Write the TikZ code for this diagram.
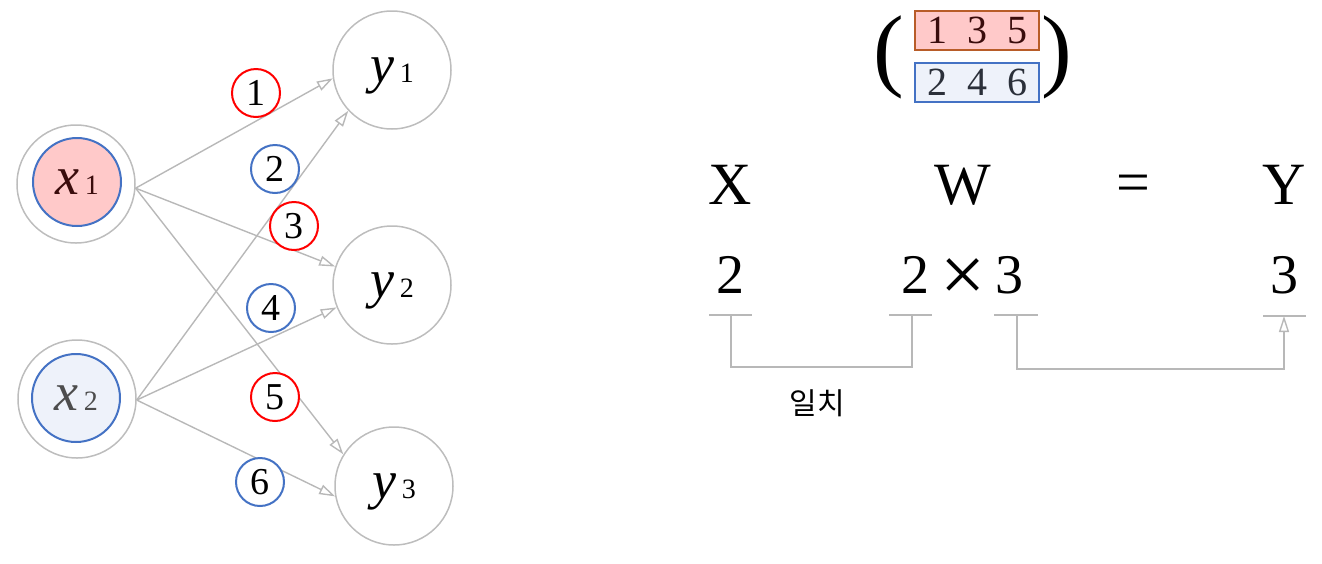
\documentclass[tikz,border=0pt]{standalone}
\usepackage{fontspec}
\setmainfont{Liberation Serif}
\newfontfamily\kofont{Noto Sans CJK KR}
\usetikzlibrary{arrows.meta}
\definecolor{edgegray}{HTML}{B8B8B8}
\definecolor{ringgray}{HTML}{BDBDBD}
\definecolor{coreblue}{HTML}{4472C4}
\definecolor{pinkfill}{HTML}{FFC9C9}
\definecolor{bluefill}{HTML}{EEF2FA}
\definecolor{boxbrown}{HTML}{B85C28}
\definecolor{maroon}{HTML}{3A0C0C}
\definecolor{slate}{HTML}{2B303A}
\definecolor{xgray}{HTML}{4D4D4D}
\definecolor{numred}{HTML}{FF0000}
\begin{document}
\begin{tikzpicture}[x=0.5pt,y=-0.5pt,
  ring/.style={circle,draw=ringgray,line width=0.75pt,minimum size=59pt,inner sep=0pt},
  core/.style={circle,draw=coreblue,line width=1pt,minimum size=44pt,inner sep=0pt},
  lab/.style={font=\fontsize{27}{27}\selectfont, text height=12.4pt, text depth=0pt},
  num/.style={circle,fill=white,line width=1pt,minimum size=24pt,inner sep=0pt,font=\fontsize{19}{19}\selectfont},
  edge/.style={draw=edgegray,line width=0.7pt,-{Triangle[open,length=8pt,width=5pt]}},
  guide/.style={draw=edgegray,line width=0.7pt},
  big/.style={font=\fontsize{30}{30}\selectfont,inner sep=0pt},
  dig/.style={font=\fontsize{28}{28}\selectfont,inner sep=0pt},
  vecbox/.style={line width=0.8pt,minimum width=62pt,minimum height=19.5pt,inner sep=0pt,font=\fontsize{20}{20}\selectfont},
]
\useasboundingbox (0,0) rectangle (1322,563);

% input nodes
\node[ring] (x1o) at (76,184) {};
\node[core,fill=pinkfill,text=maroon,lab] (x1) at (77,182) {\itshape x\hspace{3pt}{\upshape\fontsize{14}{14}\selectfont 1}};
\node[ring] (x2o) at (77,399) {};
\node[core,fill=bluefill,text=xgray,lab] (x2) at (76,398) {\itshape x\hspace{3pt}{\upshape\fontsize{14}{14}\selectfont 2}};

% output nodes
\node[ring,lab] (y1) at (392,70) {\itshape y\hspace{3pt}{\upshape\fontsize{14}{14}\selectfont 1}};
\node[ring,lab] (y2) at (392,285) {\itshape y\hspace{3pt}{\upshape\fontsize{14}{14}\selectfont 2}};
\node[ring,lab] (y3) at (394,486) {\itshape y\hspace{3pt}{\upshape\fontsize{14}{14}\selectfont 3}};

% edges
\draw[edge] (x1o.-4) -- (y1.188);
\draw[edge] (x2o.-1) -- (y1.223);
\draw[edge] (x1o.-4) -- (y2.162);
\draw[edge] (x2o.-1) -- (y2.202);
\draw[edge] (x1o.-4) -- (y3.148);
\draw[edge] (x2o.-1) -- (y3.190);

% weight labels
\node[num,draw=numred] (w1) at (256,93) {1};
\node[num,draw=coreblue] (w2) at (275,169) {2};
\node[num,draw=numred] (w3) at (294,226) {3};
\node[num,draw=coreblue] (w4) at (271,308) {4};
\node[num,draw=numred] (w5) at (275,397) {5};
\node[num,draw=coreblue] (w6) at (260,482) {6};

% matrix
\node[font=\fontsize{46}{46}\selectfont,inner sep=0pt] (lp) at (889,57) {(};
\node[font=\fontsize{46}{46}\selectfont,inner sep=0pt] (rp) at (1057,57) {)};
\node[vecbox,draw=boxbrown,fill=pinkfill,text=maroon] (r1) at (977,30.5) {1\hspace{10pt}3\hspace{10pt}5};
\node[vecbox,draw=coreblue,fill=bluefill,text=slate] (r2) at (977,82.5) {2\hspace{10pt}4\hspace{10pt}6};

% equation
\node[big] (X) at (730,185) {X};
\node[big] (W) at (963,185) {W};
\node[big] (eq) at (1133,189) {=};
\node[big] (Y) at (1284,185) {Y};

\node[dig] (dx) at (730,275) {2};
\node[dig] (dw1) at (915,275) {2};
\node[font=\fontsize{40}{40}\selectfont,inner sep=0pt] (times) at (963,280) {×};
\node[dig] (dw2) at (1009,275) {3};
\node[dig] (dy) at (1284,275) {3};

% guides
\coordinate (t1a) at (709,315); \coordinate (t1b) at (752,315);
\coordinate (t2a) at (889,315); \coordinate (t2b) at (932,315);
\coordinate (t3a) at (994,315); \coordinate (t3b) at (1038,315);
\coordinate (t4a) at (1263,316); \coordinate (t4b) at (1306,316);
\draw[guide] (t1a) -- (t1b);
\draw[guide] (t2a) -- (t2b);
\draw[guide] (t3a) -- (t3b);
\draw[guide] (t4a) -- (t4b);
\coordinate (m1) at (731,315); \coordinate (m2) at (912,315);
\coordinate (n1) at (1017,315); \coordinate (n2) at (1284,316);
\draw[guide] (m1) -- (731,367) -- (912,367) -- (m2);
\draw[guide,-{Triangle[open,length=8pt,width=5pt]}] (n1) -- (1017,369) -- (1284,369) -- (n2);

\node[font=\kofont\fontsize{15}{15}\selectfont,inner sep=0pt] (match) at (817,403) {일치};
\end{tikzpicture}
\end{document}
